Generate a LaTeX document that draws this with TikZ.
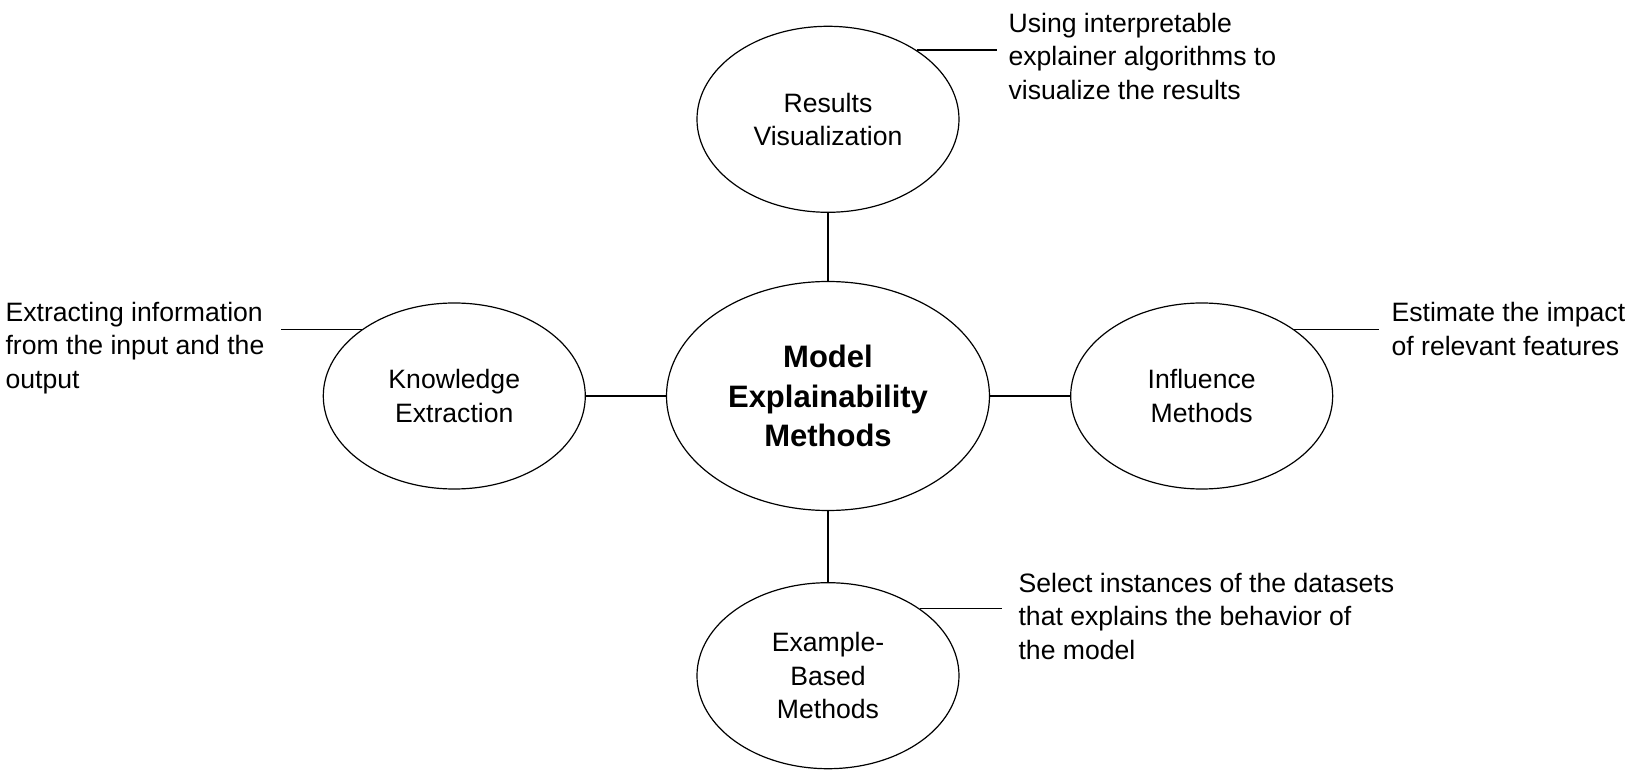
\documentclass[tikz,border=0pt]{standalone}
\usepackage{fontspec}
\setmainfont{Liberation Sans}
\usetikzlibrary{shapes.geometric, positioning}

\begin{document}
\begin{tikzpicture}[node distance=35.5pt and 40pt, line width=0.6pt,
    every node/.style={inner sep=0pt, font=\fontsize{13.3}{16.75}\selectfont}]
    \useasboundingbox (-414pt,198pt) rectangle (411pt,-190pt);

    % Central topic
    \node[draw, ellipse, minimum width=161.5pt, minimum height=114.5pt, align=center, font=\fontsize{15.5}{19.75}\selectfont\bfseries] (model) {Model\\Explainability\\Methods};

    % Methods
    \node[draw, ellipse, minimum width=131pt, minimum height=93pt, align=center, above=34pt of model] (results) {Results\\Visualization};
    \node[draw, ellipse, minimum width=131pt, minimum height=93pt, align=center, left=of model] (knowledge) {Knowledge\\Extraction};
    \node[draw, ellipse, minimum width=131pt, minimum height=93pt, align=center, right=of model] (influence) {Influence\\Methods};
    \node[draw, ellipse, minimum width=131pt, minimum height=93pt, align=center, below=of model] (example) {Example-\\Based\\Methods};

    % Links
    \draw (results) -- (model);
    \draw (knowledge) -- (model);
    \draw (influence) -- (model);
    \draw (example) -- (model);

    % Descriptions
    \node[anchor=west, align=left] (resultsnote) at (90pt,170pt) {Using interpretable\\explainer algorithms to\\visualize the results};
    \node[anchor=west, align=left] (knowledgenote) at (-411.5pt,24pt) {Extracting information\\from the input and the\\output};
    \node[anchor=west, align=left] (influencenote) at (281.5pt,33.5pt) {Estimate the impact\\of relevant features};
    \node[anchor=west, align=left] (examplenote) at (95pt,-110pt) {Select instances of the datasets\\that explains the behavior of\\the model};

    \coordinate (resultsend) at (84.5pt,0);
    \coordinate (knowledgeend) at (-273.5pt,0);
    \coordinate (influenceend) at (275.5pt,0);
    \coordinate (exampleend) at (87pt,0);

    \draw (results.38) -- (results.38 -| resultsend);
    \draw (knowledge.144) -- (knowledge.144 -| knowledgeend);
    \draw (influence.36) -- (influence.36 -| influenceend);
    \draw (example.36) -- (example.36 -| exampleend);
\end{tikzpicture}
\end{document}
